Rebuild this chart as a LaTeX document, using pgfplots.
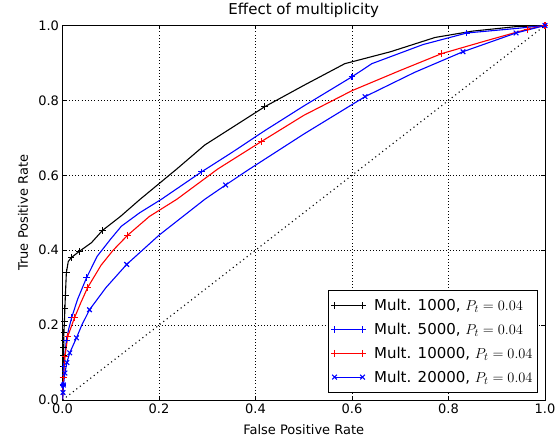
\documentclass[border=0pt]{standalone}
\usepackage[no-math]{fontspec}
\setmainfont{DejaVu Sans}
\usepackage{pgfplots}
\pgfplotsset{compat=1.18}
\definecolor{mplblue}{rgb}{0,0,1}
\definecolor{mplred}{rgb}{1,0,0}

\begin{document}
\begin{tikzpicture}
\useasboundingbox (-62.5pt,-39pt) rectangle (495.5pt,400pt);
\begin{axis}[
  at={(0pt,0pt)}, anchor=south west,
  width=482.5pt, height=374.5pt, scale only axis,
  xmin=0, xmax=1, ymin=0, ymax=1,
  xtick={0,0.2,0.4,0.6,0.8,1}, ytick={0,0.2,0.4,0.6,0.8,1},
  xticklabels={0.0,0.2,0.4,0.6,0.8,1.0},
  yticklabels={0.0,0.2,0.4,0.6,0.8,1.0},
  tick label style={font=\fontsize{13}{15}\selectfont},
  label style={font=\fontsize{13}{16}\selectfont},
  xlabel={False Positive Rate}, ylabel={True Positive Rate},
  xlabel style={at={(axis description cs:0.5,-0.08)}, anchor=center},
  ylabel style={at={(axis description cs:-0.082,0.5)}, anchor=center},
  title={Effect of multiplicity},
  title style={at={(axis description cs:0.5,1)}, anchor=base, yshift=4.5pt, font=\fontsize{15}{18}\selectfont},
  axis line style={black, line width=0.9pt},
  tick style={black, line width=0.55pt}, major tick length=4pt,
  tick align=inside, tick pos=both,
  grid=major, grid style={black, line width=0.5pt, dash pattern=on 0.6pt off 2.6pt},
  legend style={at={(1,0)}, anchor=south east, xshift=-7pt, yshift=7pt,
    draw=black, line width=0.9pt, fill=white, font=\fontsize{15}{18}\selectfont,
    inner xsep=3pt, inner ysep=7pt, row sep=7pt},
  legend cell align=left,
  legend image code/.code={%
    \draw[mark repeat=2,mark phase=1,#1] plot coordinates {(0pt,0pt) (14pt,0pt) (28pt,0pt)};
    \path (37pt,0pt);},
]
% Mult. 1000
\addplot[black, line width=1.1pt, forget plot] coordinates {
  (0,0)(0.001,0.03)(0.001,0.06)(0.0015,0.09)(0.002,0.12)(0.0025,0.14)(0.003,0.16)(0.003,0.18)
  (0.004,0.21)(0.005,0.245)(0.006,0.28)(0.008,0.34)(0.012,0.37)(0.018,0.38)(0.035,0.397)
  (0.06,0.42)(0.083,0.453)(0.12,0.49)(0.16,0.535)(0.237,0.617)(0.295,0.681)(0.419,0.783)
  (0.5,0.84)(0.585,0.898)(0.68,0.93)(0.772,0.968)(0.85,0.985)(0.94,0.997)(1,1)};
\addplot[black, only marks, mark=+, mark size=3.3pt, mark options={line width=1.1pt}, forget plot] coordinates {
  (0.001,0.06)(0.0015,0.09)(0.002,0.12)(0.0025,0.14)(0.003,0.16)(0.003,0.18)(0.004,0.21)
  (0.005,0.245)(0.006,0.28)(0.008,0.34)(0.018,0.38)(0.035,0.397)(0.083,0.453)(0.419,0.783)(1,1)};
% Mult. 5000
\addplot[mplblue, line width=1.1pt, forget plot] coordinates {
  (0,0)(0.001,0.04)(0.003,0.09)(0.005,0.12)(0.008,0.16)(0.013,0.19)(0.019,0.22)(0.031,0.268)
  (0.05,0.327)(0.072,0.384)(0.1,0.43)(0.122,0.464)(0.16,0.5)(0.205,0.536)(0.288,0.609)
  (0.35,0.66)(0.419,0.719)(0.5,0.785)(0.6,0.863)(0.641,0.898)(0.747,0.949)(0.838,0.98)
  (0.94,0.992)(1,1)};
\addplot[mplblue, only marks, mark=+, mark size=3.3pt, mark options={line width=1.1pt}, forget plot] coordinates {
  (0.001,0.04)(0.003,0.09)(0.008,0.16)(0.019,0.22)(0.05,0.327)(0.288,0.609)(0.6,0.863)(0.838,0.98)(1,1)};
% Mult. 10000
\addplot[mplred, line width=1.1pt, forget plot] coordinates {
  (0,0)(0.001,0.03)(0.002,0.06)(0.005,0.115)(0.011,0.17)(0.025,0.22)(0.038,0.26)(0.052,0.30)
  (0.08,0.36)(0.105,0.40)(0.135,0.44)(0.18,0.49)(0.237,0.536)(0.322,0.617)(0.412,0.69)
  (0.5,0.76)(0.6,0.826)(0.7,0.88)(0.786,0.925)(0.88,0.96)(0.963,0.99)(1,1)};
\addplot[mplred, only marks, mark=+, mark size=3.3pt, mark options={line width=1.1pt}, forget plot] coordinates {
  (0.002,0.06)(0.005,0.115)(0.011,0.17)(0.025,0.22)(0.052,0.30)(0.135,0.44)(0.412,0.69)
  (0.786,0.925)(0.963,0.99)(1,1)};
% Mult. 20000
\addplot[mplblue, line width=1.1pt, forget plot] coordinates {
  (0,0)(0.001,0.02)(0.002,0.04)(0.005,0.072)(0.009,0.1)(0.015,0.126)(0.029,0.166)(0.04,0.2)
  (0.056,0.241)(0.09,0.30)(0.133,0.362)(0.2,0.44)(0.295,0.536)(0.338,0.574)(0.388,0.617)
  (0.5,0.71)(0.627,0.81)(0.73,0.875)(0.83,0.93)(0.94,0.98)(1,1)};
\addplot[mplblue, only marks, mark=x, mark size=3.3pt, mark options={line width=1.1pt}, forget plot] coordinates {
  (0.001,0.02)(0.002,0.04)(0.005,0.072)(0.009,0.1)(0.015,0.126)(0.029,0.166)(0.056,0.241)
  (0.133,0.362)(0.338,0.574)(0.627,0.81)(0.83,0.93)(0.94,0.98)(1,1)};
% chance diagonal
\addplot[black, line width=1.1pt, dash pattern=on 1.1pt off 3.3pt, forget plot] coordinates {(0,0)(1,1)};

\addlegendimage{black, line width=1.1pt, mark=+, mark size=3.3pt}
\addlegendentry{Mult. 1000, $P_t=0.04$}
\addlegendimage{mplblue, line width=1.1pt, mark=+, mark size=3.3pt}
\addlegendentry{Mult. 5000, $P_t=0.04$}
\addlegendimage{mplred, line width=1.1pt, mark=+, mark size=3.3pt}
\addlegendentry{Mult. 10000, $P_t=0.04$}
\addlegendimage{mplblue, line width=1.1pt, mark=x, mark size=3.3pt}
\addlegendentry{Mult. 20000, $P_t=0.04$}
\end{axis}
\end{tikzpicture}
\end{document}
